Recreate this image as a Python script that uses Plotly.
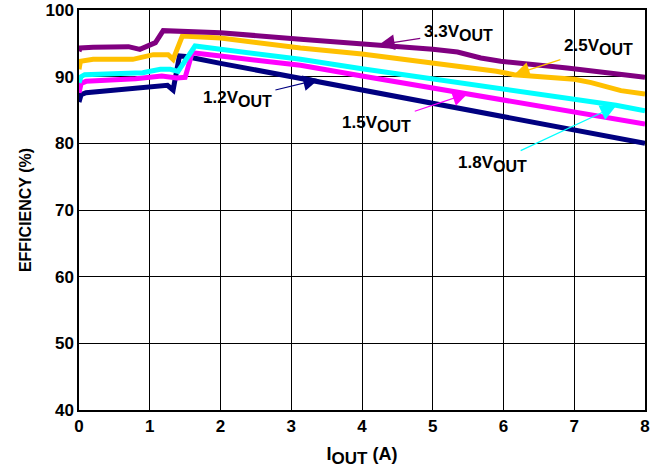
import plotly.graph_objects as go

# Data
x_33 = [0, 0.02, 0.2, 0.5, 0.7, 0.86, 1.08, 1.19, 2.0, 3.13, 4.24, 5.0, 5.35, 5.68, 5.96, 6.9, 8.0]
y_33 = [93.8, 94.3, 94.4, 94.4, 94.5, 94.1, 95.1, 96.9, 96.6, 95.6, 94.8, 94.1, 93.7, 92.8, 92.3, 91.3, 89.9]

x_25 = [0, 0.02, 0.2, 0.5, 0.76, 1.05, 1.26, 1.33, 1.46, 2.0, 3.13, 4.0, 5.0, 5.9, 6.15, 7.0, 7.24, 7.66, 8.0]
y_25 = [91.1, 92.3, 92.6, 92.7, 92.6, 93.3, 93.3, 92.6, 96.1, 95.8, 94.3, 93.4, 92.1, 90.8, 90.3, 89.6, 89.1, 87.9, 87.4]

x_18 = [0, 0.03, 0.08, 0.3, 0.6, 0.9, 1.15, 1.29, 1.4, 1.64, 2.0, 3.13, 4.0, 5.0, 6.0, 7.0, 7.59, 8.0]
y_18 = [89.1, 90.0, 90.3, 90.4, 90.5, 90.6, 91.1, 91.1, 90.8, 94.6, 94.1, 92.6, 91.2, 89.7, 88.2, 86.7, 85.7, 84.9]

x_15 = [0, 0.03, 0.1, 0.3, 0.5, 0.8, 1.17, 1.38, 1.5, 1.6, 2.0, 3.13, 4.0, 5.0, 6.0, 7.0, 8.0]
y_15 = [87.6, 89.0, 89.3, 89.4, 89.6, 89.7, 90.1, 89.8, 89.9, 93.6, 93.1, 91.7, 90.1, 88.3, 86.5, 84.7, 82.9]

x_12 = [0, 0.03, 0.1, 0.4, 0.8, 1.1, 1.25, 1.33, 1.42, 1.55, 1.62, 2.0, 3.0, 4.0, 5.0, 6.0, 7.0, 8.0]
y_12 = [86.2, 87.3, 87.6, 87.9, 88.3, 88.5, 88.7, 88.0, 93.1, 93.0, 92.8, 92.0, 90.0, 88.0, 86.0, 84.0, 82.0, 80.0]

x_ticks = [0, 1, 2, 3, 4, 5, 6, 7, 8]
y_ticks = [40, 50, 60, 70, 80, 90, 100]

FONT = "Liberation Sans, Arial, sans-serif"

series = [
    (x_12, y_12, "#000080"),
    (x_15, y_15, "#FF00FF"),
    (x_18, y_18, "#00FFFF"),
    (x_25, y_25, "#FFC000"),
    (x_33, y_33, "#800080"),
]

fig = go.Figure()
for xs, ys, c in series:
    fig.add_trace(go.Scatter(x=xs, y=ys, mode="lines",
                             line=dict(color=c, width=5), showlegend=False,
                             hoverinfo="skip"))

def lab(v):
    return f"{v}V<sub><span style='font-size:16px'>OUT</span></sub>"

# (label, tip x, tip y, text x, text y, colour)
labels = [
    ("3.3", 4.24, 94.8, 5.36, 96.6, "#800080"),
    ("2.5", 6.15, 90.3, 7.34, 94.4, "#FFC000"),
    ("1.5", 5.5, 87.5, 4.21, 82.9, "#FF00FF"),
    ("1.8", 7.59, 85.6, 5.84, 76.9, "#00FFFF"),
    ("1.2", 3.39, 89.6, 2.24, 86.6, "#000080"),
]
for v, tx, ty, ax, ay, c in labels:
    fig.add_annotation(x=tx, y=ty, ax=ax, ay=ay, axref="x", ayref="y",
                       text=lab(v), showarrow=True, arrowhead=2,
                       arrowsize=2.6, arrowwidth=1.2, arrowcolor=c,
                       standoff=0, startstandoff=2,
                       font=dict(family=FONT, size=17, color="black", weight="bold"))

fig.update_layout(
    width=659, height=472,
    margin=dict(l=79, r=14, t=10, b=62),
    paper_bgcolor="white", plot_bgcolor="white",
    font=dict(family=FONT, color="black"),
    xaxis=dict(range=[0, 8], tickvals=x_ticks, showgrid=True, gridcolor="black",
               gridwidth=1, showline=True, linecolor="black", linewidth=1.5, mirror=True,
               zeroline=False, ticks="", tickfont=dict(size=17, weight="bold"),
               automargin=False,
               title=dict(text="I<sub><span style='font-size:17px'>OUT</span></sub> (A)",
                          font=dict(size=18, weight="bold"), standoff=12)),
    yaxis=dict(range=[40, 100], tickvals=y_ticks, showgrid=True, gridcolor="black",
               gridwidth=1, showline=True, linecolor="black", linewidth=1.5, mirror=True,
               zeroline=False, ticks="", tickfont=dict(size=17, weight="bold"),
               automargin=False,
               title=dict(text="EFFICIENCY (%)", font=dict(size=16, weight="bold"),
                          standoff=10)),
)

fig.write_html("out.html", config={"displayModeBar": False},
               post_script="document.body.style.margin='0';")
